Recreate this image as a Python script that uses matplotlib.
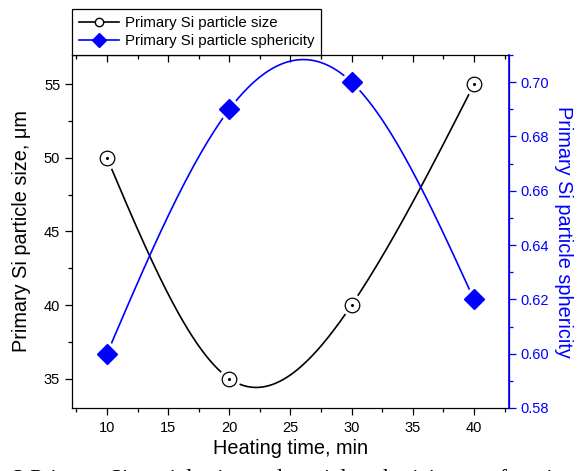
import numpy as np
import matplotlib
matplotlib.use('Agg')
import matplotlib.pyplot as plt
from matplotlib.ticker import MultipleLocator, FormatStrFormatter

plt.rcParams['font.family'] = ['Liberation Sans', 'DejaVu Sans']

heating_time = [10, 20, 30, 40]
particle_size = [50, 35, 40, 55]
sphericity = [0.60, 0.69, 0.70, 0.62]

label_size = 'Primary Si particle size'
label_sph = 'Primary Si particle sphericity'
caption = '3 Primary Si particle size and particle sphericity as a function of heating time'


def natural_spline(x, y, n=300):
    # natural cubic spline (what Origin uses for "Spline" connect)
    x = np.asarray(x, float)
    y = np.asarray(y, float)
    k = len(x)
    h = np.diff(x)
    A = np.zeros((k, k))
    b = np.zeros(k)
    A[0, 0] = A[-1, -1] = 1
    for i in range(1, k - 1):
        A[i, i - 1] = h[i - 1]
        A[i, i] = 2 * (h[i - 1] + h[i])
        A[i, i + 1] = h[i]
        b[i] = 6 * ((y[i + 1] - y[i]) / h[i] - (y[i] - y[i - 1]) / h[i - 1])
    M = np.linalg.solve(A, b)
    xs = np.linspace(x[0], x[-1], n)
    idx = np.clip(np.searchsorted(x, xs) - 1, 0, k - 2)
    x0, x1 = x[idx], x[idx + 1]
    hh = x1 - x0
    ys = (M[idx] * (x1 - xs) ** 3 / (6 * hh) + M[idx + 1] * (xs - x0) ** 3 / (6 * hh)
          + (y[idx] / hh - M[idx] * hh / 6) * (x1 - xs)
          + (y[idx + 1] / hh - M[idx + 1] * hh / 6) * (xs - x0))
    return xs, ys


fig = plt.figure(figsize=(5.77, 4.71), dpi=100)
ax = fig.add_axes([0.1248, 0.1338, 0.7572, 0.7494])
ax2 = ax.twinx()

# black series: particle size
xs, ys = natural_spline(heating_time, particle_size)
ax.plot(xs, ys, color='black', lw=1.2, zorder=2)
ax.plot(heating_time, particle_size, ls='none', marker='o', ms=15, mfc='white', mec='white', zorder=3)
ax.plot(heating_time, particle_size, ls='none', marker='o', ms=10.5, mfc='white', mec='black', mew=0.9, zorder=4)
ax.plot(heating_time, particle_size, ls='none', marker='o', ms=1.2, color='black', zorder=5)

# blue series: sphericity
xs2, ys2 = natural_spline(heating_time, sphericity)
ax2.plot(xs2, ys2, color='#0000ff', lw=1.2, zorder=2)
ax2.plot(heating_time, sphericity, ls='none', marker='D', ms=14, color='white', zorder=3)
ax2.plot(heating_time, sphericity, ls='none', marker='D', ms=10, color='#0000ff', zorder=4)

ax.set_xlim(7.14, 42.86)
ax.set_ylim(33, 57)
ax2.set_ylim(0.58, 0.71)

ax.xaxis.set_major_locator(MultipleLocator(5))
ax.xaxis.set_minor_locator(MultipleLocator(2.5))
ax.yaxis.set_major_locator(MultipleLocator(5))
ax.yaxis.set_minor_locator(MultipleLocator(2.5))
ax2.yaxis.set_major_locator(MultipleLocator(0.02))
ax2.yaxis.set_minor_locator(MultipleLocator(0.01))
ax2.yaxis.set_major_formatter(FormatStrFormatter('%.2f'))

ax.tick_params(axis='x', which='both', direction='out', top=False, labelsize=10.5, pad=4.5)
ax.tick_params(axis='x', which='major', length=5, width=0.9)
ax.tick_params(axis='x', which='minor', length=3, width=0.9)
ax.tick_params(axis='y', which='major', direction='out', length=5, width=0.9, labelsize=10.5, right=False)
ax.tick_params(axis='y', which='minor', direction='out', length=3, width=0.9, right=False)
ax2.tick_params(axis='y', which='major', direction='out', length=5, width=0.9, labelsize=10.5,
                colors='#0000ff')
ax2.tick_params(axis='y', which='minor', direction='out', length=3, width=0.9, colors='#0000ff')

# top ticks pointing inward, no labels
top = ax.secondary_xaxis('top')
top.xaxis.set_major_locator(MultipleLocator(5))
top.xaxis.set_minor_locator(MultipleLocator(2.5))
top.tick_params(which='both', direction='in', labeltop=False, width=0.9)
top.tick_params(which='major', length=5)
top.tick_params(which='minor', length=3)
top.spines['top'].set_visible(False)

for s in ax.spines.values():
    s.set_linewidth(0.9)
ax2.spines['right'].set_color('#0000ff')
ax2.spines['right'].set_linewidth(1.2)
for s in ['left', 'top', 'bottom']:
    ax2.spines[s].set_visible(False)

ax.set_xlabel('Heating time, min', fontsize=14.3, labelpad=3)
ax.set_ylabel('Primary Si particle size, \u03bcm', fontsize=14.3, labelpad=9)
ax2.set_ylabel(label_sph, fontsize=14.3, color='#0000ff', rotation=270, labelpad=17)

# legend handles
h1, = ax.plot([], [], color='black', lw=1.2, marker='o', ms=6, mfc='white', mec='black')
h2, = ax.plot([], [], color='#0000ff', lw=1.2, marker='D', ms=7.5)
leg = ax.legend([h1, h2], [label_size, label_sph], loc='lower left', bbox_to_anchor=(0, 1),
                borderaxespad=0, fancybox=False, edgecolor='black', framealpha=1,
                fontsize=10.8, handlelength=2.7, handletextpad=0.35, labelspacing=0.3,
                borderpad=0.45)
leg.get_frame().set_linewidth(0.9)

# caption of the source figure, cut off at the bottom edge as in the reference
fig.text(13 / 577, -14.5 / 471, caption, family='Liberation Serif', fontsize=16.5, va='baseline')

fig.savefig('out.png', dpi=100)
